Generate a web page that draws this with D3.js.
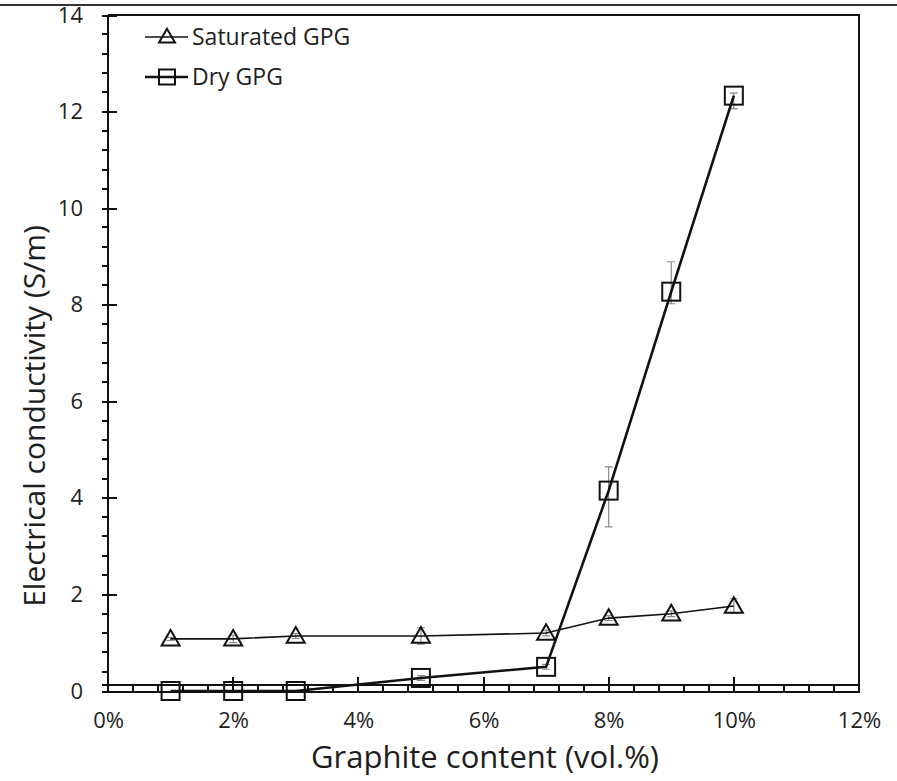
<!DOCTYPE html>
<html>
<head>
<meta charset="utf-8">
<script src="https://cdn.jsdelivr.net/npm/d3@7"></script>
<style>
  html, body { margin: 0; padding: 0; background: #fff; }
  svg { display: block; font-family: "Open Sans", "Noto Sans", sans-serif; }
  .crisp line, .crisp path { shape-rendering: crispEdges; }
</style>
</head>
<body>
<svg id="chart" width="897" height="781"></svg>
<script>
// Graphite content (vol. fraction)
const contents = [0.01, 0.02, 0.03, 0.05, 0.07, 0.08, 0.09, 0.10];

// Electrical conductivity (S/m)
const saturated = [1.08, 1.08, 1.14, 1.14, 1.20, 1.51, 1.60, 1.76];
const saturatedErr = [0.03, 0.08, 0.05, 0.17, 0.06, 0.05, 0.06, 0.15];

const dry = [0.0, 0.0, 0.0, 0.27, 0.50, 4.15, 8.27, 12.33];
const dryErrUp = [0.0, 0.0, 0.0, 0.05, 0.05, 0.49, 0.62, 0.05];
const dryErrDown = [0.0, 0.0, 0.0, 0.05, 0.05, 0.75, 0.25, 0.27];

const xTicks = [0, 0.02, 0.04, 0.06, 0.08, 0.10, 0.12];
const yTicks = [0, 2, 4, 6, 8, 10, 12, 14];

const seriesNames = ["Saturated GPG", "Dry GPG"];

const svg = d3.select("#chart");
const W = 897, H = 781;
const m = { left: 108, top: 15, right: 38, bottom: 90 };

const x = d3.scaleLinear().domain([0, 0.12]).range([m.left, W - m.right]);
const y = d3.scaleLinear().domain([0, 14]).range([H - m.bottom, m.top]);

const ink = "#111";
const textInk = "#1e1e1e";

const frame = svg.append("g").attr("class", "crisp");

// Rule along the very top of the figure
frame.append("line")
  .attr("x1", 0).attr("x2", W).attr("y1", 5).attr("y2", 5)
  .attr("stroke", "#333").attr("stroke-width", 2);

// Plot frame (top and right edges)
frame.append("path")
  .attr("d", `M${x(0)},${y(14)}H${x(0.12)}V${y(0)}`)
  .attr("fill", "none").attr("stroke", ink).attr("stroke-width", 2);

// ---- Y axis ----
const yMinor = d3.range(0, 14.0001, 0.4).filter(v => Math.abs(v / 2 - Math.round(v / 2)) > 1e-6);
const yAxisMajor = d3.axisLeft(y).tickValues(yTicks).tickSizeInner(5).tickSizeOuter(0).tickPadding(20);
const gy = svg.append("g").attr("class", "crisp").attr("transform", `translate(${x(0)},0)`).call(yAxisMajor);
gy.select(".domain").remove();
gy.selectAll(".tick line").attr("stroke", ink).attr("stroke-width", 2).attr("x2", 9).attr("x1", -6);
gy.selectAll(".tick text").attr("font-size", 22).attr("fill", textInk)
  .attr("font-family", "'Open Sans', sans-serif");
frame.append("line")
  .attr("x1", x(0)).attr("x2", x(0)).attr("y1", y(14)).attr("y2", y(0))
  .attr("stroke", ink).attr("stroke-width", 2);
frame.append("g").selectAll("line").data(yMinor).join("line")
  .attr("x1", x(0) - 6).attr("x2", x(0))
  .attr("y1", d => y(d)).attr("y2", d => y(d))
  .attr("stroke", ink).attr("stroke-width", 2);

// ---- X axis ----
const xMinor = d3.range(0, 0.12001, 0.004).filter(v => Math.abs(v / 0.02 - Math.round(v / 0.02)) > 1e-6);
const xAxis = d3.axisBottom(x).tickValues(xTicks).tickFormat(d3.format(".0%"))
  .tickSizeInner(0).tickSizeOuter(0).tickPadding(21);
const gx = svg.append("g").attr("class", "crisp").attr("transform", `translate(0,${y(0)})`).call(xAxis);
gx.select(".domain").attr("stroke", ink).attr("stroke-width", 2);
gx.selectAll(".tick text").attr("font-size", 22).attr("fill", textInk)
  .attr("font-family", "'Open Sans', sans-serif");
// second rail of the x axis
frame.append("line")
  .attr("x1", x(0) - 6).attr("x2", x(0.12)).attr("y1", y(0) - 6).attr("y2", y(0) - 6)
  .attr("stroke", ink).attr("stroke-width", 2);
// minor ticks crossing both rails
frame.append("g").selectAll("line").data(xMinor).join("line")
  .attr("x1", d => x(d)).attr("x2", d => x(d))
  .attr("y1", y(0) - 6).attr("y2", y(0))
  .attr("stroke", ink).attr("stroke-width", 2);
// major ticks pointing up into the plot
frame.append("g").selectAll("line").data(xTicks.slice(1, -1)).join("line")
  .attr("x1", d => x(d)).attr("x2", d => x(d))
  .attr("y1", y(0) - 14).attr("y2", y(0))
  .attr("stroke", ink).attr("stroke-width", 2);

// ---- Axis titles ----
svg.append("text")
  .attr("x", 485).attr("y", 768)
  .attr("text-anchor", "middle").attr("font-size", 31).attr("fill", textInk)
  .text("Graphite content (vol.%)");
svg.append("text")
  .attr("transform", `translate(45,${416}) rotate(-90)`)
  .attr("text-anchor", "middle").attr("font-size", 30).attr("fill", textInk)
  .text("Electrical conductivity (S/m)");

// ---- Data ----
const satData = contents.map((c, i) => ({ c, v: saturated[i], up: saturatedErr[i], dn: saturatedErr[i] }));
const dryData = contents.map((c, i) => ({ c, v: dry[i], up: dryErrUp[i], dn: dryErrDown[i] }));

const line = d3.line().x(d => x(d.c)).y(d => y(d.v));

function errorBars(data) {
  const g = svg.append("g").attr("stroke", "#8a8a8a").attr("stroke-width", 1.2).attr("fill", "none");
  const withErr = data.filter(d => d.up > 0 || d.dn > 0);
  g.selectAll("path").data(withErr).join("path")
    .attr("d", d => {
      const cx = x(d.c), t = y(d.v + d.up), b = y(d.v - d.dn);
      return `M${cx},${t}V${b}M${cx - 4},${t}H${cx + 4}M${cx - 4},${b}H${cx + 4}`;
    });
}

errorBars(satData);
errorBars(dryData);

svg.append("path").datum(satData).attr("d", line)
  .attr("fill", "none").attr("stroke", ink).attr("stroke-width", 1.6);
svg.append("path").datum(dryData).attr("d", line)
  .attr("fill", "none").attr("stroke", ink).attr("stroke-width", 2.6);

const tri = d3.symbol().type(d3.symbolTriangle).size(140);
svg.append("g").selectAll("path").data(satData).join("path")
  .attr("transform", d => `translate(${x(d.c)},${y(d.v) + 1.5})`)
  .attr("d", tri)
  .attr("fill", "none").attr("stroke", ink).attr("stroke-width", 2);

svg.append("g").selectAll("rect").data(dryData).join("rect")
  .attr("x", d => x(d.c) - 9).attr("y", d => y(d.v) - 9)
  .attr("width", 18).attr("height", 18)
  .attr("fill", "none").attr("stroke", ink).attr("stroke-width", 2);

// ---- Legend ----
const leg = svg.append("g");
const legRows = [
  { name: seriesNames[0], cy: 37, shape: "tri", sw: 1.6 },
  { name: seriesNames[1], cy: 77, shape: "sq", sw: 2.6 }
];
legRows.forEach(r => {
  leg.append("line").attr("x1", 145).attr("x2", 188).attr("y1", r.cy).attr("y2", r.cy)
    .attr("stroke", ink).attr("stroke-width", r.sw);
  if (r.shape === "tri") {
    leg.append("path").attr("d", d3.symbol().type(d3.symbolTriangle).size(110)())
      .attr("transform", `translate(167,${r.cy + 1})`)
      .attr("fill", "none").attr("stroke", ink).attr("stroke-width", 2);
  } else {
    leg.append("rect").attr("x", 159).attr("y", r.cy - 7.5).attr("width", 16).attr("height", 15)
      .attr("fill", "none").attr("stroke", ink).attr("stroke-width", 2);
  }
  leg.append("text").attr("x", 192).attr("y", r.cy + 8)
    .attr("font-size", 23).attr("fill", textInk).text(r.name);
});
</script>
</body>
</html>
